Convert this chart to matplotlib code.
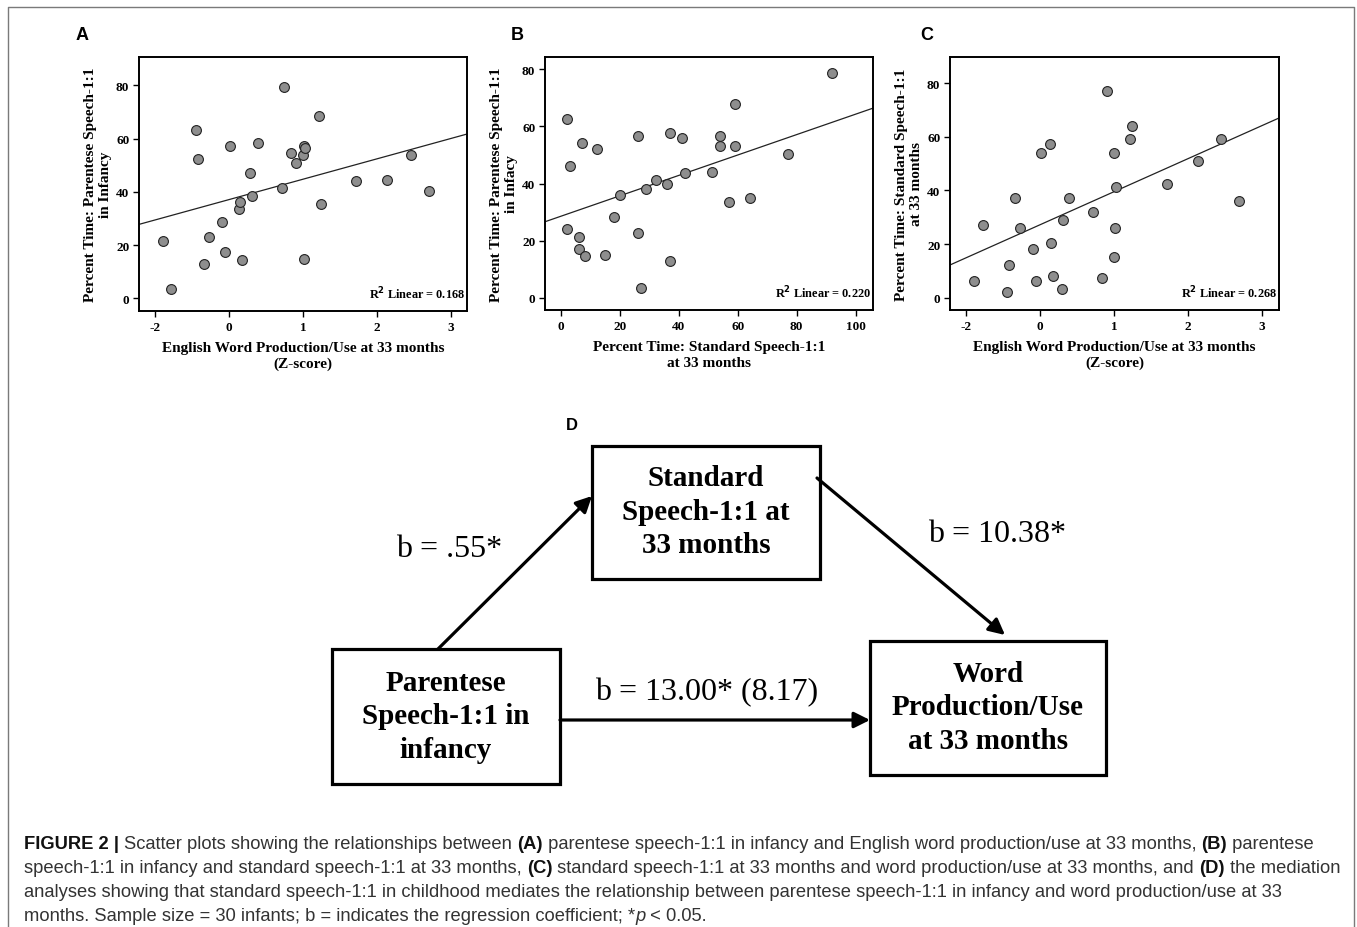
import matplotlib
matplotlib.use('Agg')
import matplotlib.pyplot as plt
from matplotlib.patches import Rectangle

# ---- data ----
# panel A: word production z (x) vs parentese % in infancy (y)
a_x = [-0.90, -0.79, -0.45, -0.42, -0.34, -0.27, -0.10, -0.06, 0.01, 0.13,
       0.15, 0.17, 0.28, 0.31, 0.39, 0.72, 0.74, 0.84, 0.91, 1.00,
       1.02, 1.03, 1.01, 1.21, 1.25, 1.72, 2.14, 2.46, 2.70]
a_y = [21.4, 3.4, 63.3, 52.5, 13.0, 23.1, 28.5, 17.2, 57.3, 33.7,
       36.2, 14.5, 46.9, 38.4, 58.3, 41.6, 79.5, 54.7, 50.9, 53.8,
       57.4, 56.6, 14.9, 68.6, 35.4, 44.1, 44.5, 53.9, 40.4]
a_fit = (37.1, 7.65)  # intercept, slope
a_r2 = '0.168'

# panel B: standard % at 33 months (x) vs parentese % in infancy (y)
b_x = [2.1, 3.1, 2.1, 6.1, 6.1, 7.1, 8.1, 12.1, 15.1, 18.1,
       20.1, 26.1, 26.1, 27.1, 29.0, 32.1, 36.0, 37.1, 37.1, 41.0,
       42.1, 51.1, 54.1, 54.1, 57.1, 59.1, 59.1, 64.2, 77.2, 92.1]
b_y = [62.7, 46.3, 24.1, 21.3, 17.0, 54.2, 14.7, 52.0, 14.9, 28.3,
       35.9, 56.8, 22.9, 3.5, 38.0, 41.3, 40.0, 57.7, 12.8, 55.9,
       43.7, 44.1, 56.7, 53.2, 33.5, 67.7, 53.3, 35.0, 50.4, 78.6]
b_fit = (28.6, 0.357)
b_r2 = '0.220'

# panel C: word production z (x) vs standard % at 33 months (y)
c_x = [-0.90, -0.78, -0.45, -0.42, -0.34, -0.27, -0.10, -0.06, 0.01, 0.13,
       0.15, 0.17, 0.29, 0.31, 0.39, 0.72, 0.83, 0.91, 1.00, 1.01,
       1.00, 1.03, 1.21, 1.24, 1.71, 2.13, 2.45, 2.69]
c_y = [6.2, 27.1, 2.2, 12.2, 37.1, 26.1, 18.2, 6.2, 54.0, 57.1,
       20.3, 8.2, 3.2, 29.1, 37.1, 32.1, 7.2, 77.0, 54.1, 26.1,
       15.2, 41.2, 59.1, 64.1, 42.2, 51.1, 59.1, 36.2]
c_fit = (27.2, 12.31)
c_r2 = '0.268'

z_ticks = [-1, 0, 1, 2, 3]
z_ticklabels = ['-2', '0', '1', '2', '3']
pct_ticks = [0, 20, 40, 60, 80]
b_xticks = [0, 20, 40, 60, 80, 100]

W, H = 1357, 928
fig = plt.figure(figsize=(W / 100, H / 100), dpi=100)

serif = 'Liberation Serif'
sans = 'Liberation Sans'


def px_axes(l, t, r, b):
    return fig.add_axes([l / W, (H - b) / H, (r - l) / W, (b - t) / H])


def scatter_panel(ax, x, y, fit, r2, xlim, ylim, xticks, xticklabels, xlabel, ylabel):
    ax.scatter(x, y, s=50, c='#8e8e8e', edgecolors='#222222', linewidths=0.8, zorder=3)
    ax.axline((0, fit[0]), slope=fit[1], color='#222222', lw=0.9, zorder=2)
    ax.set_xlim(*xlim)
    ax.set_ylim(*ylim)
    ax.set_xticks(xticks)
    ax.set_xticklabels(xticklabels)
    ax.set_yticks(pct_ticks)
    for sp in ax.spines.values():
        sp.set_linewidth(1.4)
    ax.tick_params(direction='out', length=4, width=1, labelsize=9.5, pad=3)
    for lab in ax.get_xticklabels() + ax.get_yticklabels():
        lab.set_family(serif)
        lab.set_fontweight('bold')
    ax.set_xlabel(xlabel, fontfamily=serif, fontweight='bold', fontsize=11,
                  linespacing=1.25, labelpad=6)
    ax.set_ylabel(ylabel, fontfamily=serif, fontweight='bold', fontsize=11,
                  linespacing=1.2, labelpad=3)
    ax.text(0.995, 0.04, r'R$^{\mathbf{2}}$ Linear = ' + r2, transform=ax.transAxes,
            ha='right', va='bottom', fontfamily=serif, fontweight='bold', fontsize=8.8)


axA = px_axes(139, 58, 467, 312)
scatter_panel(axA, a_x, a_y, a_fit, a_r2, (-1.22, 3.22), (-4.8, 90.7), z_ticks, z_ticklabels,
              'English Word Production/Use at 33 months\n(Z-score)',
              'Percent Time: Parentese Speech-1:1\nin Infancy')

axB = px_axes(545, 58, 873, 311)
scatter_panel(axB, b_x, b_y, b_fit, b_r2, (-5.4, 105.9), (-4.2, 84.3), b_xticks,
              [str(t) for t in b_xticks],
              'Percent Time: Standard Speech-1:1\nat 33 months',
              'Percent Time: Parentese Speech-1:1\nin Infacy')

axC = px_axes(950, 58, 1279, 311)
scatter_panel(axC, c_x, c_y, c_fit, c_r2, (-1.22, 3.23), (-4.6, 89.7), z_ticks, z_ticklabels,
              'English Word Production/Use at 33 months\n(Z-score)',
              'Percent Time: Standard Speech-1:1\nat 33 months')

# ---- overlay in pixel coordinates for letters, diagram and caption ----
top = fig.add_axes([0, 0, 1, 1], zorder=5)
top.set_xlim(0, W)
top.set_ylim(H, 0)
top.axis('off')
top.patch.set_alpha(0)

# outer frame
top.plot([8, 8, 1354, 1354], [H + 2, 8, 8, H + 2], color='#7a7a7a', lw=1)

for letter, lx, ly in [('A', 82, 36), ('B', 517, 36), ('C', 927, 36), ('D', 572, 426)]:
    top.text(lx, ly, letter, ha='center', va='center', fontfamily=sans,
             fontweight='bold', fontsize=13 if letter != 'D' else 12)

boxes = [
    ((592, 447, 820, 580), 'Standard\nSpeech-1:1 at\n33 months', 512),
    ((332, 650, 560, 785), 'Parentese\nSpeech-1:1 in\ninfancy', 717),
    ((870, 642, 1106, 776), 'Word\nProduction/Use\nat 33 months', 708),
]
for (l, t, r, b), label, cy in boxes:
    top.add_patch(Rectangle((l, t), r - l, b - t, fill=False, ec='black', lw=2.3))
    top.text((l + r) / 2, cy, label, ha='center', va='center', fontfamily=serif,
             fontweight='bold', fontsize=21, linespacing=1.3)

arrow = dict(arrowstyle='-|>', lw=2.3, color='black', mutation_scale=24,
             shrinkA=0, shrinkB=0)
top.annotate('', xy=(592, 497), xytext=(438, 650), arrowprops=arrow)
top.annotate('', xy=(1005, 636), xytext=(817, 479), arrowprops=arrow)
top.annotate('', xy=(870, 721), xytext=(560, 721), arrowprops=arrow)

for txt, tx, ty in [('b = .55*', 449, 550), ('b = 10.38*', 997, 535),
                    ('b = 13.00* (8.17)', 707, 693)]:
    top.text(tx, ty, txt, ha='center', va='center', fontfamily=serif, fontsize=23)

# ---- caption with mixed weights ----
caption = [
    [('FIGURE 2 | ', 'bold', 'normal'), ('Scatter plots showing the relationships between ', 'normal', 'normal'),
     ('(A)', 'bold', 'normal'), (' parentese speech-1:1 in infancy and English word production/use at 33 months, ', 'normal', 'normal'),
     ('(B)', 'bold', 'normal'), (' parentese', 'normal', 'normal')],
    [('speech-1:1 in infancy and standard speech-1:1 at 33 months, ', 'normal', 'normal'), ('(C)', 'bold', 'normal'),
     (' standard speech-1:1 at 33 months and word production/use at 33 months, and ', 'normal', 'normal'),
     ('(D)', 'bold', 'normal'), (' the mediation', 'normal', 'normal')],
    [('analyses showing that standard speech-1:1 in childhood mediates the relationship between parentese speech-1:1 in infancy and word production/use at 33', 'normal', 'normal')],
    [('months. Sample size = 30 infants; b = indicates the regression coefficient; *', 'normal', 'normal'),
     ('p', 'normal', 'italic'), (' < 0.05.', 'normal', 'normal')],
]
line_y = [845, 869, 893, 917]

fig.canvas.draw()
renderer = fig.canvas.get_renderer()
for segs, y in zip(caption, line_y):
    x = 24
    for s, w, st in segs:
        t = top.text(x, y, s, ha='left', va='center', fontfamily=sans, fontweight=w,
                     fontstyle=st, fontsize=13.2, color='#333333' if w == 'normal' else '#111111')
        bb = t.get_window_extent(renderer=renderer)
        x += bb.width

fig.savefig('out.png', dpi=100, facecolor='white')
